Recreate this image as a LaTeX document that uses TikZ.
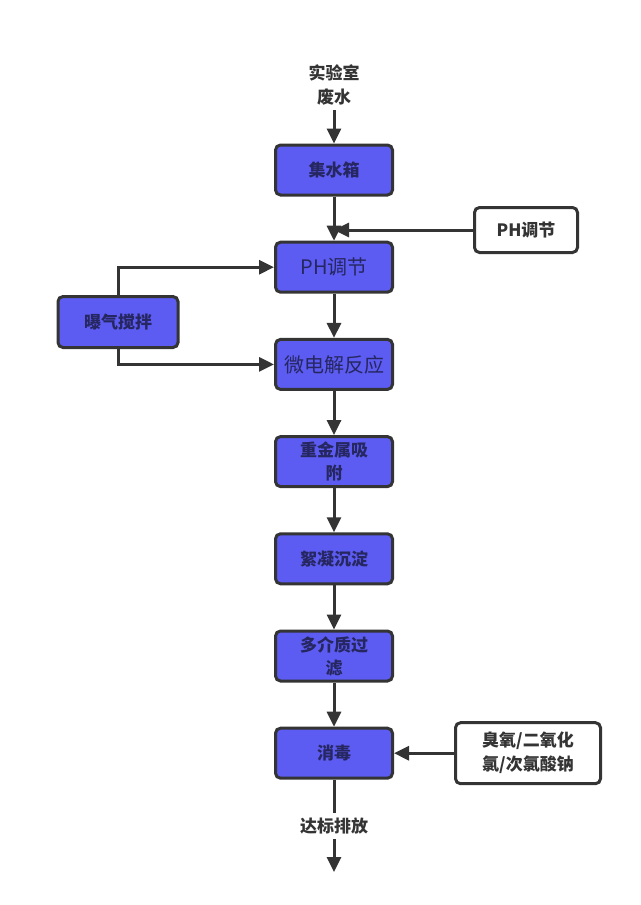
\documentclass[tikz,border=0pt]{standalone}
\usepackage{fontspec}
\setmainfont{Noto Sans CJK SC}
\usepackage{tikz}
\usetikzlibrary{positioning,arrows.meta}

\definecolor{boxblue}{RGB}{92,92,242}
\definecolor{boxtext}{RGB}{38,38,96}
\definecolor{linegray}{RGB}{52,52,52}

\begin{document}
\begin{tikzpicture}[x=1pt, y=-1pt, >={Triangle[length=15pt,width=14pt]}, node distance=97.2pt, on grid,
    line width=3pt, draw=linegray,
    proc/.style={draw=linegray, line width=3pt, rounded corners=5pt, fill=boxblue, text=boxtext,
        minimum width=117pt, minimum height=50pt, align=center, inner sep=2pt,
        font=\bfseries\fontsize{17}{23}\selectfont},
    procbig/.style={proc, font=\fontsize{20}{24}\selectfont},
    addbox/.style={draw=linegray, line width=3pt, rounded corners=5pt, fill=white, text=linegray,
        align=center, font=\bfseries\fontsize{17}{24}\selectfont},
    plain/.style={text=linegray, align=center, font=\bfseries\fontsize{17}{24}\selectfont}]
   \useasboundingbox (0,0) rectangle (640,905);
   \node[plain] (src) at (334,85) {实验室\\废水};
   \node[proc] (tank) at (334,170) {集水箱};
   \node[procbig] (ph) [below=of tank] {PH调节};
   \node[procbig] (micro) [below=of ph] {微电解反应};
   \node[proc] (metal) [below=of micro] {重金属吸\\附};
   \node[proc] (floc) [below=of metal] {絮凝沉淀};
   \node[proc] (filter) [below=of floc] {多介质过\\滤};
   \node[proc] (disinf) [below=of filter] {消毒};
   \node[addbox, minimum width=103pt, minimum height=45pt] (phadd) at (526,230) {PH调节};
   \node[proc, minimum width=120pt, minimum height=51pt] (aerate) at (118,322) {曝气搅拌};
   \node[addbox, minimum width=145pt, minimum height=61pt] (oxid) [right=194pt of disinf] {臭氧/二氧化\\氯/次氯酸钠};
   \node[plain] (out) at (334,826) {达标排放};
   \coordinate (end) at (334,872);
   \path (src)    edge [->] (tank)
         (tank)   edge [->] (ph)
         (phadd)  edge [->] (phadd -| tank.south)
         (ph)     edge [->] (micro)
         (micro)  edge [->] (metal)
         (metal)  edge [->] (floc)
         (floc)   edge [->] (filter)
         (filter) edge [->] (disinf)
         (oxid)   edge [->] (disinf)
         (disinf) edge      (out)
         (out)    edge [->] (end);
   \draw[->] (aerate.north) |- (ph.west);
   \draw[->] (aerate.south) |- (micro.west);
\end{tikzpicture}
\end{document}
